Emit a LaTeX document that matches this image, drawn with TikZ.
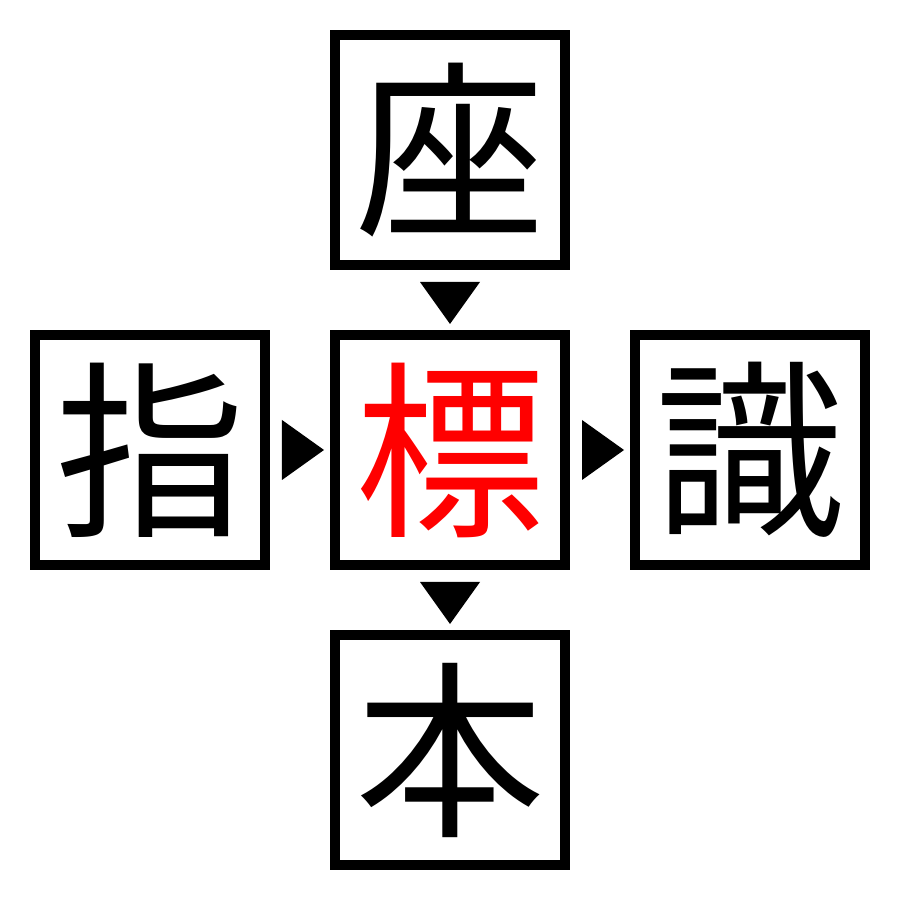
\documentclass[tikz,border=0pt]{standalone}
\usepackage{fontspec}
\newfontfamily\cjk{Noto Sans CJK JP}
\usetikzlibrary{positioning, calc}
\definecolor{markred}{RGB}{255,0,0}

\begin{document}
\begin{tikzpicture}
\useasboundingbox (0,0) rectangle (9,9);
\tikzset{charbox/.style={rectangle, draw, line width=0.1cm, minimum size=2.3cm, inner sep=0pt, font=\cjk\fontsize{54}{54}\selectfont}}

% Central node
\node[charbox, text=markred] (center) at (4.5,4.5) {標};

% Surrounding characters
\node[charbox, above=0.6cm of center] (up) {座};
\node[charbox, left=0.6cm of center] (left) {指};
\node[charbox, right=0.6cm of center] (right) {識};
\node[charbox, below=0.6cm of center] (down) {本};

% Pointers
\fill ($(up.south)+(-0.3,-0.12)$) -- ++(0.6,0) -- ($(center.north)+(0,0.06)$) -- cycle;
\fill ($(center.south)+(-0.3,-0.12)$) -- ++(0.6,0) -- ($(down.north)+(0,0.06)$) -- cycle;
\fill ($(left.east)+(0.12,0.3)$) -- ++(0,-0.6) -- ($(center.west)+(-0.06,0)$) -- cycle;
\fill ($(center.east)+(0.12,0.3)$) -- ++(0,-0.6) -- ($(right.west)+(-0.06,0)$) -- cycle;
\end{tikzpicture}
\end{document}
